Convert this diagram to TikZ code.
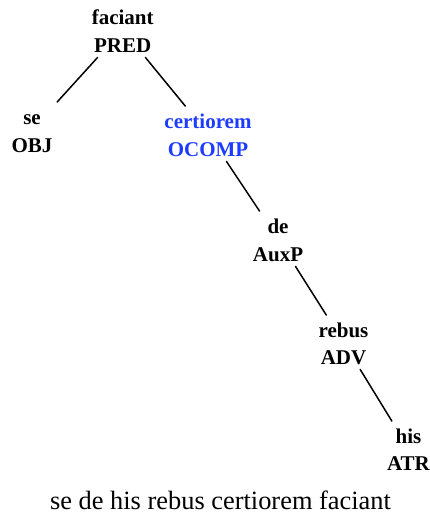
\documentclass[tikz,border=0pt]{standalone}
\usepackage{fontspec}
\setmainfont{Liberation Serif}
\usetikzlibrary{fit}
\definecolor{selblue}{RGB}{30,60,255}
\begin{document}
\begin{tikzpicture}[x=1pt,y=-1pt,
  tok/.style={font=\fontsize{21}{28}\selectfont\bfseries, inner sep=0pt, text height=21.5pt, text depth=5pt, anchor=base},
  grp/.style={inner xsep=6pt, inner ysep=0pt},
  edge/.style={line width=1.5pt, line cap=round}]
\useasboundingbox (0,0) rectangle (430,517);
% tree nodes: word + label
\node[tok] (w1) at (122.7,24) {faciant};
\node[tok] (l1) at (122.7,52) {PRED};
\node[grp, fit=(w1)(l1)] (n1) {};
\node[tok] (w2) at (32,124) {se};
\node[tok] (l2) at (32,152) {OBJ};
\node[grp, fit=(w2)(l2)] (n2) {};
\node[tok, text=selblue] (w3) at (208,128) {certiorem};
\node[tok, text=selblue] (l3) at (208,156) {OCOMP};
\node[grp, fit=(w3)(l3)] (n3) {};
\node[tok] (w4) at (278,233) {de};
\node[tok] (l4) at (278,261) {AuxP};
\node[grp, fit=(w4)(l4)] (n4) {};
\node[tok] (w5) at (343.5,337) {rebus};
\node[tok] (l5) at (343.5,364) {ADV};
\node[grp, fit=(w5)(l5)] (n5) {};
\node[tok] (w6) at (408.5,443) {his};
\node[tok] (l6) at (408.5,470) {ATR};
\node[grp, fit=(w6)(l6)] (n6) {};
% connectors
\draw[edge] (n1) -- (n2);
\draw[edge] (n1) -- (n3);
\draw[edge] (n3) -- (n4);
\draw[edge] (n4) -- (n5);
\draw[edge] (n5) -- (n6);
% sentence
\node[font=\fontsize{26.4}{30}\selectfont, inner sep=0pt, anchor=base] (s) at (220.5,509) {se de his rebus certiorem faciant};
\end{tikzpicture}
\end{document}
